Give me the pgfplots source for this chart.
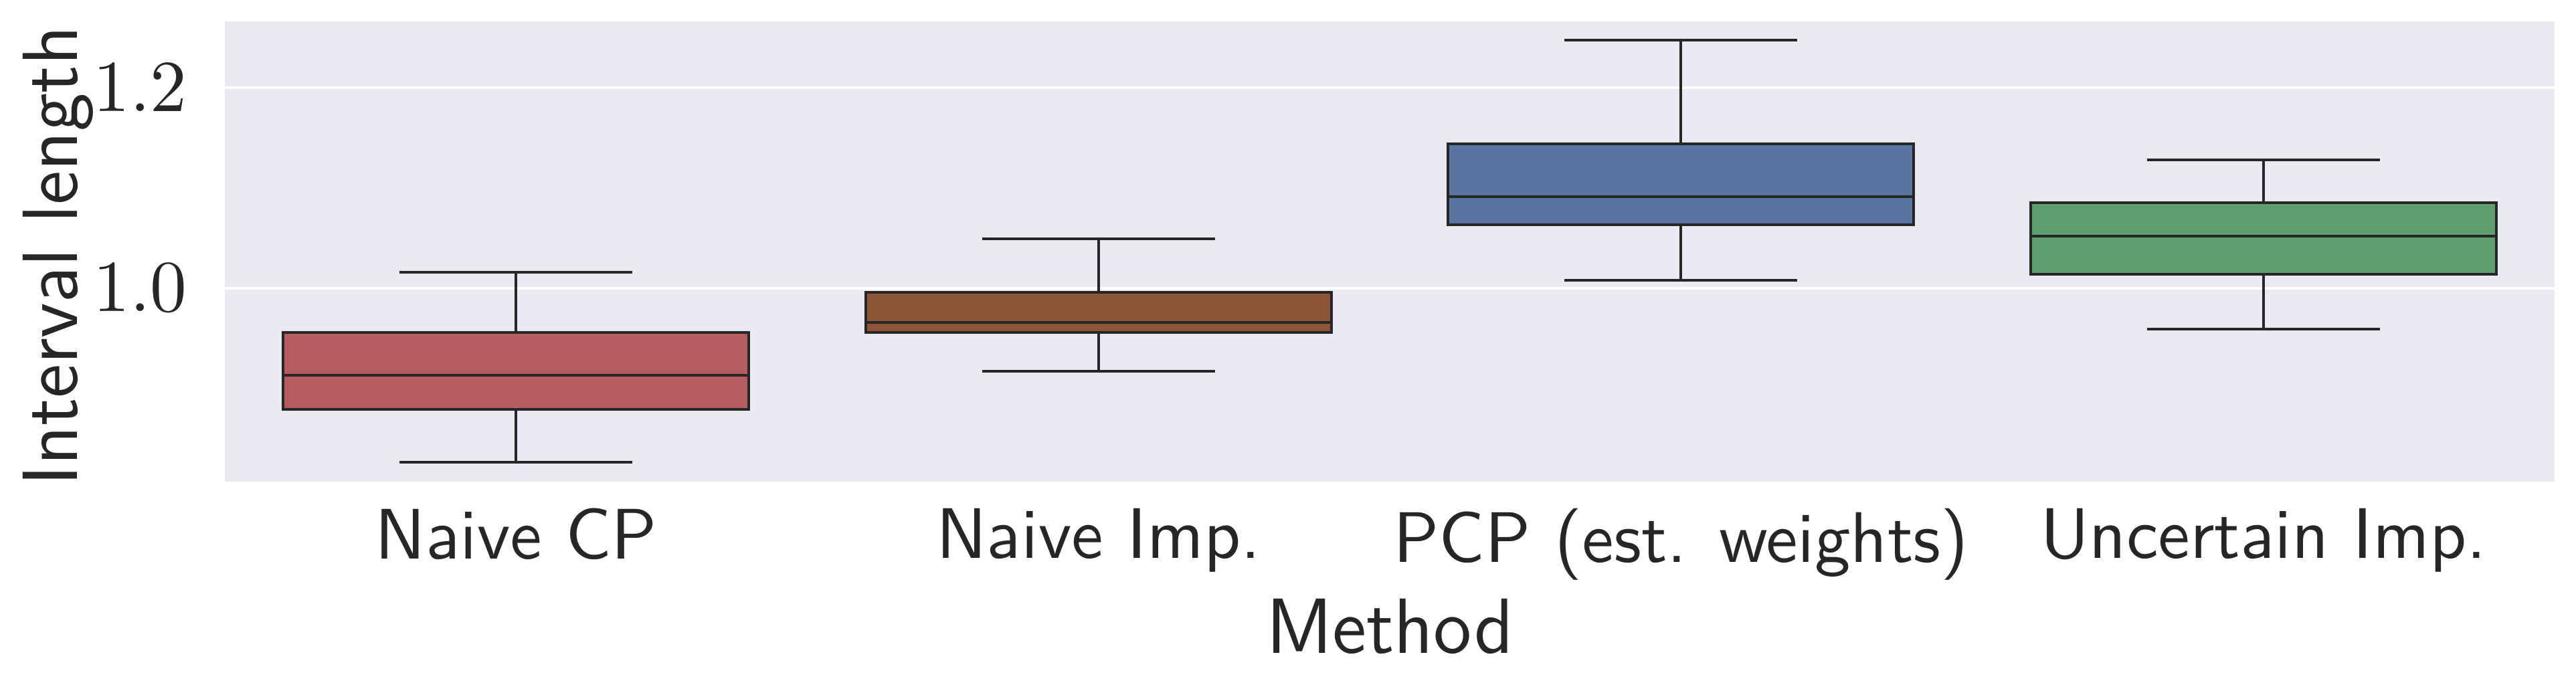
\documentclass[border=0pt]{standalone}
\usepackage{pgfplots}
\pgfplotsset{compat=1.18}
\usepgfplotslibrary{statistics}

\definecolor{sbbg}{HTML}{EAEAF2}
\definecolor{sbdark}{HTML}{262626}
\definecolor{cpred}{HTML}{B55D60}
\definecolor{impbrown}{HTML}{8E5639}
\definecolor{pcpblue}{HTML}{5875A4}
\definecolor{uncgreen}{HTML}{5F9E6E}

\begin{document}
\begin{tikzpicture}
\begin{axis}[
    scale only axis,
    width=348.2pt, height=68.8pt,
    xmin=-0.5, xmax=3.5,
    ymin=0.807, ymax=1.266,
    axis background/.style={fill=sbbg},
    axis line style={draw=none},
    ymajorgrids,
    grid style={white, line width=0.4pt},
    major tick length=0pt,
    xtick={0,1,2,3},
    xticklabels={Naive CP, Naive Imp., PCP (est. weights), Uncertain Imp.},
    ytick={1.0,1.2},
    yticklabel style={/pgf/number format/fixed, /pgf/number format/fixed zerofill,
        /pgf/number format/precision=1, xshift=-2.1pt,
        font=\fontsize{10.7}{12}\selectfont, text=sbdark},
    xticklabel style={yshift=-0.5pt, font=\sffamily\fontsize{10.7}{12}\selectfont, text=sbdark},
    xlabel={Method},
    ylabel={Interval length},
    every axis x label/.style={at={(axis description cs:0.5,-0.3735)}, anchor=base,
        font=\sffamily\fontsize{11.7}{14}\selectfont, text=sbdark},
    every axis y label/.style={at={(axis description cs:-0.0632,0.49)}, rotate=90, anchor=base,
        font=\sffamily\fontsize{11.7}{14}\selectfont, text=sbdark},
    boxplot/draw direction=y,
    boxplot/box extend=0.8,
    boxplot/whisker extend=0.4,
]
\addplot[draw=sbdark, fill=cpred, line width=0.4pt, boxplot prepared={
    draw position=0, lower whisker=0.826, lower quartile=0.879, median=0.913,
    upper quartile=0.956, upper whisker=1.016}] coordinates {};
\addplot[draw=sbdark, fill=impbrown, line width=0.4pt, boxplot prepared={
    draw position=1, lower whisker=0.917, lower quartile=0.956, median=0.966,
    upper quartile=0.996, upper whisker=1.049}] coordinates {};
\addplot[draw=sbdark, fill=pcpblue, line width=0.4pt, boxplot prepared={
    draw position=2, lower whisker=1.008, lower quartile=1.063, median=1.091,
    upper quartile=1.144, upper whisker=1.247}] coordinates {};
\addplot[draw=sbdark, fill=uncgreen, line width=0.4pt, boxplot prepared={
    draw position=3, lower whisker=0.959, lower quartile=1.014, median=1.052,
    upper quartile=1.085, upper whisker=1.128}] coordinates {};
\end{axis}
\pgfresetboundingbox
\path[use as bounding box] (-33.6pt,-31.3pt) rectangle (351.4pt,72.0pt);
\end{tikzpicture}
\end{document}
